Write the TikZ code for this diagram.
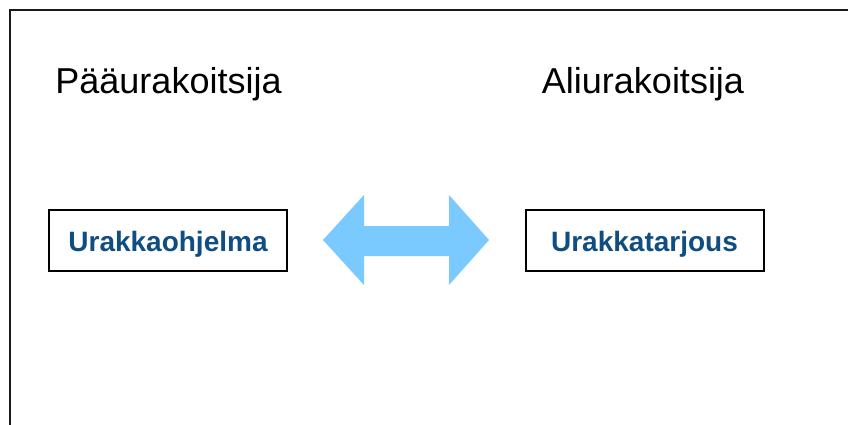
\documentclass[tikz,border=0pt]{standalone}
\usepackage{fontspec}
\setmainfont{Liberation Sans}
\definecolor{boxtext}{RGB}{16,77,128}
\definecolor{arrowblue}{RGB}{122,201,255}
\begin{document}
\begin{tikzpicture}[x=1pt,y=-1pt,
  heading/.style={font=\fontsize{36}{43}\selectfont, anchor=base, inner sep=0pt},
  docbox/.style={draw=black, line width=2pt, minimum width=238pt, minimum height=61pt,
    inner sep=0pt, text height=21pt, text depth=0pt, text=boxtext,
    font=\bfseries\fontsize{28}{34}\selectfont},
  frameline/.style={draw=black!90, line width=2.2pt}]
  \useasboundingbox (0,0) rectangle (848,425);
  % open frame along the top and left
  \coordinate (fbl) at (10,426);
  \coordinate (ftl) at (10,10);
  \coordinate (ftr) at (849,10);
  \draw[frameline] (fbl) -- (ftl) -- (ftr);
  % party headings
  \node[heading] (main) at (168.5,94) {Pääurakoitsija};
  \node[heading] (sub) at (643,94) {Aliurakoitsija};
  % documents
  \node[docbox] (prog) at (168,240.5) {Urakkaohjelma};
  \node[docbox] (offer) at (644.5,240.5) {Urakkatarjous};
  % two-way exchange arrow
  \fill[arrowblue] (323,240) -- (364,195) -- (364,226) -- (449,226) -- (449,195)
    -- (489,240) -- (449,285) -- (449,256) -- (364,256) -- (364,285) -- cycle;
\end{tikzpicture}
\end{document}
